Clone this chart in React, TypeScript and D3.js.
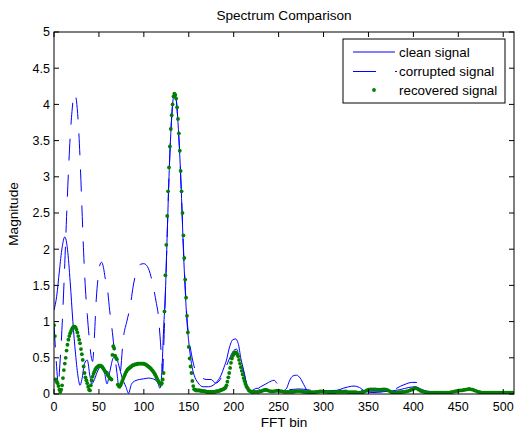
import React from 'react';
import * as d3 from 'd3';

const width = 515;
const height = 432;
const plot = {left: 54, right: 514, top: 32, bottom: 394};
const blue = '#0000ff';
const green = '#008000';
const font = '"Liberation Sans", Arial, sans-serif';

// tick labels
const xTicks = [0, 50, 100, 150, 200, 250, 300, 350, 400, 450, 500];
const yTicks = [0, 0.5, 1, 1.5, 2, 2.5, 3, 3.5, 4, 4.5, 5];

// clean signal at selected bins
const cleanBins = [0, 3, 6, 9, 12, 15, 18, 21, 24, 27, 29, 31, 34, 37, 40, 42, 45, 49, 53, 56, 59, 62, 66, 69, 72, 76, 80, 83, 86, 90, 95, 100, 105, 110, 115, 118, 120, 122, 124, 126, 128, 130, 132, 134, 136, 138, 140, 142, 144, 146, 148, 150, 153, 156, 160, 166, 172, 177, 182, 186, 189, 192, 195, 199, 202, 205, 208, 212, 215, 218, 222, 226, 230, 236, 242, 250, 256, 259, 262, 266, 270, 274, 278, 282, 288, 296, 305, 315, 322, 328, 334, 340, 346, 355, 365, 375, 385, 395, 402, 410, 418, 430, 445, 455, 462, 468, 476, 490, 500, 511];
const cleanMag = [1.16, 1.35, 1.7, 2.02, 2.17, 2.0, 1.55, 1.0, 0.55, 0.22, 0.12, 0.2, 0.42, 0.47, 0.25, 0.14, 0.2, 0.33, 0.38, 0.31, 0.14, 0.3, 0.5, 0.52, 0.4, 0.22, 0.1, 0.01, 0.13, 0.18, 0.2, 0.21, 0.22, 0.21, 0.17, 0.08, 0.3, 0.9, 1.4, 2.2, 3.0, 3.6, 4.0, 4.15, 4.08, 3.75, 3.3, 2.7, 2.0, 1.45, 1.0, 0.72, 0.42, 0.26, 0.16, 0.1, 0.1, 0.12, 0.18, 0.26, 0.36, 0.47, 0.63, 0.75, 0.76, 0.7, 0.49, 0.28, 0.1, 0.03, 0.06, 0.08, 0.05, 0.04, 0.05, 0.04, 0.05, 0.08, 0.18, 0.25, 0.26, 0.22, 0.13, 0.05, 0.03, 0.05, 0.04, 0.05, 0.08, 0.1, 0.11, 0.09, 0.04, 0.02, 0.03, 0.04, 0.06, 0.09, 0.1, 0.06, 0.03, 0.02, 0.03, 0.05, 0.07, 0.06, 0.03, 0.03, 0.02, 0.02];

// corrupted signal
const corruptBins = [0, 2, 4, 5, 6, 8, 10, 12, 14, 16, 18, 20, 22, 23, 25, 27, 29, 31, 33, 35, 37, 39, 41, 43, 45, 47, 49, 51, 53, 55, 57, 59, 62, 65, 68, 70, 72, 74, 77, 81, 85, 88, 92, 96, 100, 104, 108, 111, 114, 116, 118, 120, 121, 122, 124, 126, 128, 130, 132, 134, 136, 138, 140, 142, 144, 146, 148, 150, 153, 156, 160, 165, 170, 175, 180, 185, 190, 195, 200, 203, 206, 210, 214, 218, 224, 230, 236, 242, 245, 248, 254, 262, 272, 282, 292, 302, 312, 322, 332, 342, 352, 362, 372, 380, 386, 392, 398, 403, 408, 414, 420, 435, 450, 460, 470, 485, 500, 511];
const corruptMag = [0.95, 0.55, 0.2, 0.1, 0.3, 0.7, 1.2, 1.8, 2.45, 3.05, 3.55, 3.9, 4.12, 4.15, 4.05, 3.75, 3.25, 2.6, 1.95, 1.45, 1.1, 0.8, 0.55, 0.45, 0.8, 1.3, 1.6, 1.78, 1.82, 1.75, 1.6, 1.5, 1.15, 0.85, 0.5, 0.3, 0.12, 0.3, 0.75, 1.0, 1.22, 1.48, 1.7, 1.79, 1.8, 1.76, 1.62, 1.45, 1.25, 1.1, 0.8, 0.45, 0.3, 0.6, 1.4, 2.2, 3.0, 3.6, 4.0, 4.14, 4.06, 3.75, 3.3, 2.7, 2.05, 1.5, 1.05, 0.8, 0.55, 0.38, 0.27, 0.22, 0.2, 0.2, 0.15, 0.2, 0.33, 0.48, 0.6, 0.62, 0.55, 0.36, 0.16, 0.05, 0.06, 0.1, 0.14, 0.18, 0.19, 0.15, 0.08, 0.06, 0.07, 0.06, 0.04, 0.04, 0.05, 0.05, 0.06, 0.05, 0.03, 0.03, 0.04, 0.07, 0.11, 0.14, 0.16, 0.16, 0.12, 0.06, 0.03, 0.03, 0.04, 0.06, 0.04, 0.03, 0.02, 0.02];

// recovered signal, one value per bin from 0 to 222
const recoveredLow = [
  0.95, 0.80, 0.20, 0.17, 0.15, 0.11, 0.06, 0.03, 0.06, 0.12,
  0.22, 0.33, 0.42, 0.50, 0.60, 0.68, 0.75, 0.80, 0.84, 0.87,
  0.90, 0.92, 0.93, 0.93, 0.92, 0.89, 0.85, 0.80, 0.75, 0.70,
  0.62, 0.55, 0.47, 0.38, 0.29, 0.23, 0.19, 0.15, 0.10, 0.06,
  0.05, 0.12, 0.19, 0.24, 0.28, 0.31, 0.34, 0.36, 0.37, 0.38,
  0.39, 0.39, 0.39, 0.38, 0.37, 0.35, 0.33, 0.31, 0.30, 0.29,
  0.26, 0.24, 0.22, 0.21, 0.20, 0.54, 0.66, 0.63, 0.53, 0.50,
  0.48, 0.13, 0.11, 0.10, 0.12, 0.15, 0.18, 0.21, 0.24, 0.27,
  0.30, 0.32, 0.34, 0.35, 0.36, 0.37, 0.38, 0.39, 0.40, 0.40,
  0.41, 0.41, 0.41, 0.42, 0.42, 0.42, 0.42, 0.42, 0.42, 0.42,
  0.42, 0.41, 0.41, 0.40, 0.39, 0.38, 0.37, 0.36, 0.35, 0.33,
  0.32, 0.30, 0.28, 0.26, 0.23, 0.20, 0.18, 0.16, 0.14, 0.13,
  0.15, 0.20, 0.29, 1.14, 1.64, 2.06, 2.46, 2.80, 3.13, 3.42,
  3.66, 3.85, 4.00, 4.11, 4.15, 4.13, 4.08, 3.96, 3.80, 3.60,
  3.36, 3.08, 2.80, 2.50, 2.19, 1.88, 1.58, 1.33, 1.08, 0.85,
  0.65, 0.49, 0.38, 0.29, 0.18, 0.11, 0.065, 0.06, 0.05, 0.05,
  0.05, 0.05, 0.05, 0.045, 0.045, 0.04, 0.04, 0.04, 0.035, 0.035,
  0.03, 0.03, 0.03, 0.03, 0.03, 0.03, 0.03, 0.03, 0.03, 0.03,
  0.035, 0.035, 0.04, 0.04, 0.045, 0.05, 0.055, 0.06, 0.065, 0.07,
  0.08, 0.09, 0.12, 0.17, 0.23, 0.29, 0.36, 0.43, 0.49, 0.53,
  0.55, 0.57, 0.575, 0.57, 0.55, 0.52, 0.47, 0.42, 0.37, 0.32,
  0.27, 0.22, 0.18, 0.14, 0.11, 0.09, 0.07, 0.05, 0.04, 0.035,
  0.03, 0.03, 0.03,
];
// recovered signal, every second bin from 224 to 510
const recoveredTail = [
  0.03, 0.03, 0.03, 0.035, 0.045, 0.055, 0.06, 0.05, 0.04, 0.035,
  0.035, 0.04, 0.045, 0.045, 0.04, 0.035, 0.03, 0.03, 0.03, 0.03,
  0.03, 0.03, 0.035, 0.04, 0.04, 0.04, 0.035, 0.03, 0.03, 0.025,
  0.025, 0.025, 0.025, 0.025, 0.03, 0.03, 0.035, 0.035, 0.035, 0.03,
  0.03, 0.025, 0.025, 0.025, 0.025, 0.03, 0.03, 0.03, 0.03, 0.03,
  0.03, 0.03, 0.025, 0.025, 0.025, 0.025, 0.025, 0.02, 0.02, 0.02,
  0.025, 0.035, 0.05, 0.06, 0.065, 0.065, 0.065, 0.065, 0.06, 0.06,
  0.06, 0.065, 0.065, 0.06, 0.05, 0.035, 0.025, 0.02, 0.02, 0.02,
  0.025, 0.025, 0.03, 0.03, 0.035, 0.04, 0.05, 0.06, 0.07, 0.08,
  0.075, 0.06, 0.045, 0.035, 0.03, 0.025, 0.02, 0.02, 0.02, 0.02,
  0.02, 0.02, 0.02, 0.02, 0.02, 0.02, 0.02, 0.02, 0.02, 0.025,
  0.03, 0.035, 0.04, 0.045, 0.05, 0.05, 0.055, 0.06, 0.065, 0.07,
  0.065, 0.06, 0.05, 0.04, 0.03, 0.025, 0.02, 0.02, 0.02, 0.02,
  0.02, 0.02, 0.02, 0.02, 0.02, 0.02, 0.02, 0.02, 0.02, 0.02,
  0.02, 0.02, 0.02, 0.02,
];

const legendItems = ['clean signal', 'corrupted signal', 'recovered signal'];

const xScale = d3.scaleLinear().domain([0, 512]).range([plot.left, plot.right]);
const yScale = d3.scaleLinear().domain([0, 5]).range([plot.bottom, plot.top]);

const lineGen = d3.line<[number, number]>()
  .x(d => xScale(d[0]))
  .y(d => yScale(d[1]))
  .curve(d3.curveMonotoneX);

export default function App() {
  const clean = cleanBins.map((b, i) => [b, cleanMag[i]] as [number, number]);
  const corrupt = corruptBins.map((b, i) => [b, corruptMag[i]] as [number, number]);
  const recovered = recoveredLow.map((v, i) => [i, v])
    .concat(recoveredTail.map((v, i) => [224 + 2 * i, v]));

  const tick = 5;
  const lx = 343, ly = 39, lw = 162, lh = 64;
  const rowY = [52, 71.5, 90];

  return (
    <svg width={width} height={height} style={{position: 'absolute', left: 0, top: 0, background: '#fff'}}
      fontFamily={font}>
      <rect x={0} y={0} width={width} height={height} fill='#fff'/>
      <defs>
        <clipPath id='plotClip'>
          <rect x={plot.left} y={plot.top} width={plot.right - plot.left} height={plot.bottom - plot.top}/>
        </clipPath>
      </defs>
      <text x={(plot.left + plot.right) / 2} y={19.5} textAnchor='middle' fontSize={13.6}>Spectrum Comparison</text>

      <g clipPath='url(#plotClip)'>
        <path d={lineGen(corrupt) || ''} fill='none' stroke={blue} strokeWidth={1} strokeDasharray='22 14'/>
        <path d={lineGen(clean) || ''} fill='none' stroke={blue} strokeWidth={1}/>
        {recovered.map((d, i) => (
          <circle key={i} cx={xScale(d[0])} cy={yScale(d[1])} r={1.9} fill={green}/>
        ))}
      </g>

      {/* axes box and ticks */}
      <rect x={plot.left} y={plot.top} width={plot.right - plot.left} height={plot.bottom - plot.top}
        fill='none' stroke='#000' strokeWidth={1}/>
      {xTicks.map(t => (
        <g key={'x' + t}>
          <line x1={xScale(t)} x2={xScale(t)} y1={plot.bottom} y2={plot.bottom - tick} stroke='#000'/>
          <line x1={xScale(t)} x2={xScale(t)} y1={plot.top} y2={plot.top + tick} stroke='#000'/>
          <text x={xScale(t)} y={410.5} textAnchor='middle' fontSize={12.5}>{t}</text>
        </g>
      ))}
      {yTicks.map(t => (
        <g key={'y' + t}>
          <line x1={plot.left} x2={plot.left + tick} y1={yScale(t)} y2={yScale(t)} stroke='#000'/>
          <line x1={plot.right} x2={plot.right - tick} y1={yScale(t)} y2={yScale(t)} stroke='#000'/>
          <text x={50} y={yScale(t) + 4.4} textAnchor='end' fontSize={12.5}>{t}</text>
        </g>
      ))}
      <text x={(plot.left + plot.right) / 2} y={427} textAnchor='middle' fontSize={13.6}>FFT bin</text>
      <text transform='translate(17.5,214) rotate(-90)' textAnchor='middle' fontSize={13.6}>Magnitude</text>

      {/* legend */}
      <rect x={lx} y={ly} width={lw} height={lh} fill='#fff' stroke='#000' strokeWidth={1}/>
      <line x1={353} x2={395} y1={rowY[0]} y2={rowY[0]} stroke={blue}/>
      <line x1={353} x2={397} y1={rowY[1]} y2={rowY[1]} stroke={blue} strokeDasharray='23 19'/>
      <circle cx={374} cy={rowY[2]} r={1.9} fill={green}/>
      {legendItems.map((s, i) => (
        <text key={s} x={399} y={rowY[i] + 4.6} fontSize={13.4}>{s}</text>
      ))}
    </svg>
  );
}
